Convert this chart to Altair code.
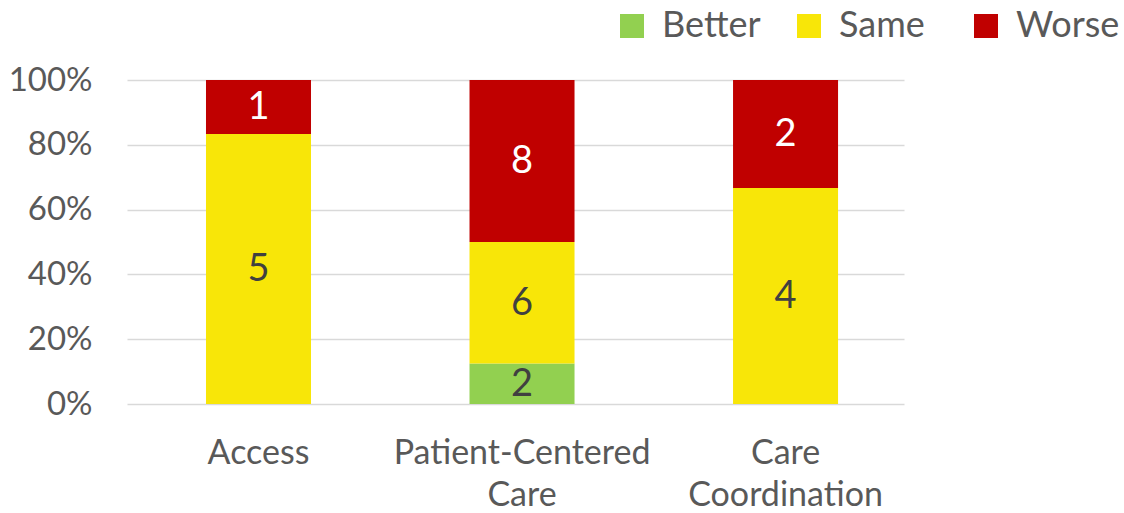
import altair as alt
import pandas as pd

# Survey outcome counts per domain
categories = ["Access", "Patient-Centered Care", "Care Coordination"]
outcomes = ["Better", "Same", "Worse"]
better = [0, 2, 0]
same = [5, 6, 4]
worse = [1, 8, 2]
colors = ["#92D050", "#F8E608", "#C00000"]
y_ticks = [0, 0.2, 0.4, 0.6, 0.8, 1.0]

FONT = "Lato"
TEXT_GREY = "#595959"

rows = []
for i, cat in enumerate(categories):
    for k, (name, vals) in enumerate(zip(outcomes, [better, same, worse])):
        if vals[i] > 0:
            rows.append({"category": cat, "outcome": name, "count": vals[i], "rank": k})
df = pd.DataFrame(rows)

base = (
    alt.Chart(df)
    .transform_stack(
        stack="count",
        groupby=["category"],
        as_=["y0", "y1"],
        offset="normalize",
        sort=[alt.SortField("rank", order="ascending")],
    )
    .transform_calculate(mid="(datum.y0 + datum.y1) / 2")
)

x_enc = alt.X(
    "category:N",
    sort=categories,
    scale=alt.Scale(paddingInner=0.6015, paddingOuter=0.275, align=0.545),
    axis=alt.Axis(
        title=None,
        labelAngle=0,
        labelExpr="split(datum.label, ' ')",
        labelFont=FONT,
        labelFontSize=34,
        labelColor=TEXT_GREY,
        labelPadding=32,
        labelLineHeight=42,
        labelLimit=500,
        ticks=False,
        domain=False,
    ),
)

bars = base.mark_bar().encode(
    x=x_enc,
    y=alt.Y(
        "y0:Q",
        scale=alt.Scale(domain=[0, 1]),
        axis=alt.Axis(
            title=None,
            format="%",
            values=y_ticks,
            labelFont=FONT,
            labelFontSize=33,
            labelColor=TEXT_GREY,
            labelPadding=35,
            ticks=False,
            domain=False,
            grid=True,
            gridColor="#D9D9D9",
            gridWidth=1.5,
        ),
    ),
    y2="y1:Q",
    color=alt.Color(
        "outcome:N",
        scale=alt.Scale(domain=outcomes, range=colors),
        legend=alt.Legend(
            title=None,
            orient="none",
            legendX=487,
            legendY=-72,
            direction="horizontal",
            gridAlign="all",
            symbolType="square",
            symbolSize=576,
            symbolStrokeWidth=0,
            labelFont=FONT,
            labelFontSize=36,
            labelColor=TEXT_GREY,
            labelOffset=12,
            columnPadding=25,
            padding=0,
            labelLimit=300,
        ),
    ),
)

labels = base.mark_text(font=FONT, fontSize=38, baseline="middle", dy=1).encode(
    x=alt.X("category:N", sort=categories),
    y=alt.Y("mid:Q"),
    text=alt.Text("count:Q"),
    color=alt.condition("datum.outcome == 'Worse'", alt.value("#FFFFFF"), alt.value("#404040")),
)

chart = (
    alt.layer(bars, labels)
    .properties(
        width=777,
        height=324,
        padding={"left": 127, "top": 80, "right": 220, "bottom": 109},
        autosize="none",
        background="white",
    )
    .configure_view(stroke=None)
)

chart.save("out.html", embed_options={"renderer": "svg", "actions": False})
